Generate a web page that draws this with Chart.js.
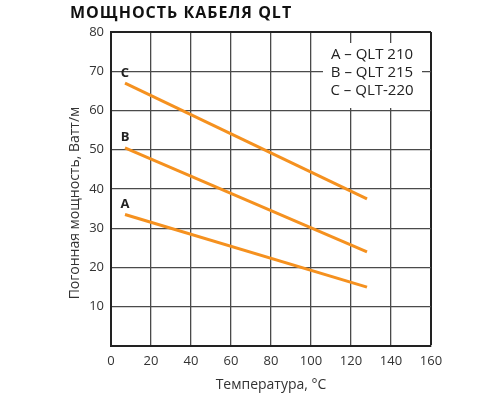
<!DOCTYPE html>
<html>
<head>
<meta charset="utf-8">
<script src="https://cdn.jsdelivr.net/npm/chart.js@4"></script>
<style>
  html, body { margin: 0; padding: 0; background: #fff; }
  #wrap { width: 500px; height: 400px; position: relative; }
</style>
</head>
<body>
<div id="wrap"><canvas id="c"></canvas></div>
<script>
const chartTitle = 'МОЩНОСТЬ КАБЕЛЯ QLT';
const xTitle = 'Температура, °C';
const yTitle = 'Погонная мощность, Ватт/м';
const temps = [7, 128];
const seriesA = [33.5, 15];
const seriesB = [50.5, 24];
const seriesC = [67, 37.5];
const seriesLetters = ['A', 'B', 'C'];
const legendLines = ['A – QLT 210', 'B – QLT 215', 'C – QLT-220'];
const xTicks = [0, 20, 40, 60, 80, 100, 120, 140, 160];
const yTicks = [10, 20, 30, 40, 50, 60, 70, 80];

const orange = '#f5911f';
const FONT = "'Open Sans', 'Noto Sans', sans-serif";

function mk(vals) {
  return vals.map((v, i) => ({ x: temps[i], y: v }));
}

const decor = {
  id: 'decor',
  afterDraw(chart) {
    const ctx = chart.ctx;
    const xs = chart.scales.x, ys = chart.scales.y;
    ctx.save();
    // title
    ctx.fillStyle = '#111';
    ctx.font = "bold 16px " + FONT;
    ctx.textAlign = 'left';
    ctx.textBaseline = 'alphabetic';
    try { ctx.letterSpacing = '1px'; } catch (e) {}
    ctx.fillText(chartTitle, 70, 18);
    try { ctx.letterSpacing = '0px'; } catch (e) {}
    // y axis title
    ctx.save();
    ctx.translate(75, 203);
    ctx.rotate(-Math.PI / 2);
    ctx.fillStyle = '#333';
    ctx.font = "14px " + FONT;
    ctx.textAlign = 'center';
    ctx.textBaseline = 'middle';
    ctx.fillText(yTitle, 0, 0);
    ctx.restore();
    // legend box
    ctx.fillStyle = '#fff';
    ctx.fillRect(323, 43, 99, 65);
    ctx.fillStyle = '#222';
    ctx.font = "15px " + FONT;
    ctx.textAlign = 'center';
    ctx.textBaseline = 'middle';
    legendLines.forEach((t, i) => ctx.fillText(t, 372, 55 + i * 18));
    // series letters
    ctx.font = "bold 13px " + FONT;
    ctx.fillStyle = '#222';
    const starts = [seriesA[0], seriesB[0], seriesC[0]];
    seriesLetters.forEach((L, i) => {
      ctx.fillText(L, xs.getPixelForValue(temps[0]), ys.getPixelForValue(starts[i]) - 10);
    });
    ctx.restore();
  }
};

new Chart(document.getElementById('c'), {
  type: 'line',
  data: {
    datasets: [
      { label: 'A', data: mk(seriesA) },
      { label: 'B', data: mk(seriesB) },
      { label: 'C', data: mk(seriesC) }
    ].map(d => Object.assign(d, {
      borderColor: orange, backgroundColor: orange, borderWidth: 3,
      pointRadius: 0, tension: 0, fill: false
    }))
  },
  options: {
    responsive: true,
    maintainAspectRatio: false,
    animation: false,
    layout: { padding: { top: 32, right: 69, left: 0, bottom: 0 } },
    plugins: { legend: { display: false }, title: { display: false }, tooltip: { enabled: false } },
    scales: {
      x: {
        type: 'linear', min: 0, max: 160,
        afterFit(s) { s.height = 54; },
        afterBuildTicks(s) { s.ticks = xTicks.map(v => ({ value: v })); },
        ticks: { color: '#333', font: { family: FONT, size: 13 }, padding: 7, maxRotation: 0 },
        grid: {
          drawTicks: false,
          color: ctx => (ctx.tick && ctx.tick.value === 160) ? '#222' : '#4a4a4a',
          lineWidth: ctx => (ctx.tick && ctx.tick.value === 160) ? 2 : 1.3
        },
        border: { color: '#222', width: 2 },
        title: { display: true, text: xTitle, color: '#333', font: { family: FONT, size: 14 }, padding: { top: 0, bottom: 7 } }
      },
      y: {
        type: 'linear', min: 0, max: 80,
        afterFit(s) { s.width = 111; },
        afterBuildTicks(s) { s.ticks = [0].concat(yTicks).map(v => ({ value: v })); },
        ticks: {
          color: '#333', font: { family: FONT, size: 13 }, padding: 7,
          callback: v => yTicks.includes(v) ? String(v) : ''
        },
        grid: {
          drawTicks: false,
          color: ctx => (ctx.tick && ctx.tick.value === 80) ? '#222' : '#4a4a4a',
          lineWidth: ctx => (ctx.tick && ctx.tick.value === 80) ? 2 : 1.3
        },
        border: { color: '#222', width: 2 },
        title: { display: false, text: yTitle }
      }
    }
  },
  plugins: [decor]
});
</script>
</body>
</html>
